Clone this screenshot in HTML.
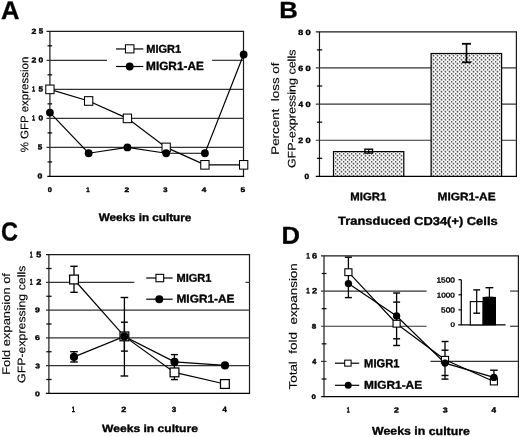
<!DOCTYPE html>
<html><head><meta charset="utf-8"><style>
html,body{margin:0;padding:0;background:#fff;}
svg{display:block;will-change:transform;}
text{font-family:"Liberation Sans",sans-serif;fill:#000;text-rendering:geometricPrecision;}
</style></head><body>
<svg width="520" height="437" viewBox="0 0 520 437">
<defs><pattern id="stip" x="3" y="1" width="4" height="4" patternUnits="userSpaceOnUse">
<rect width="4" height="4" fill="#fff"/><rect x="-0.3" y="-0.2" width="1.6" height="1.8" fill="#5a5a5a"/><rect x="1.7" y="1.8" width="1.6" height="1.8" fill="#5a5a5a"/>
</pattern>
<filter id="bl" x="-5%" y="-5%" width="110%" height="110%"><feGaussianBlur stdDeviation="0.5"/></filter></defs>
<rect width="520" height="437" fill="#fff"/>
<line x1="46.50" y1="31.30" x2="244.10" y2="31.30" stroke="#1a1a1a" stroke-width="1.2"/>
<line x1="49.90" y1="31.30" x2="49.90" y2="176.45" stroke="#1a1a1a" stroke-width="1.2"/>
<line x1="243.50" y1="31.30" x2="243.50" y2="177.05" stroke="#1a1a1a" stroke-width="1.2"/>
<line x1="47.30" y1="176.45" x2="244.10" y2="176.45" stroke="#000" stroke-width="1.25"/>
<line x1="46.50" y1="60.33" x2="107.00" y2="60.33" stroke="#333" stroke-width="1.2"/>
<line x1="212.10" y1="60.33" x2="243.50" y2="60.33" stroke="#333" stroke-width="1.2"/>
<line x1="46.50" y1="89.36" x2="243.50" y2="89.36" stroke="#333" stroke-width="1.2"/>
<line x1="46.50" y1="118.39" x2="243.50" y2="118.39" stroke="#333" stroke-width="1.2"/>
<line x1="46.50" y1="147.42" x2="243.50" y2="147.42" stroke="#333" stroke-width="1.2"/>
<line x1="47.50" y1="45.81" x2="52.20" y2="45.81" stroke="#000" stroke-width="1.2"/>
<line x1="47.50" y1="74.84" x2="52.20" y2="74.84" stroke="#000" stroke-width="1.2"/>
<line x1="47.50" y1="103.87" x2="52.20" y2="103.87" stroke="#000" stroke-width="1.2"/>
<line x1="47.50" y1="132.90" x2="52.20" y2="132.90" stroke="#000" stroke-width="1.2"/>
<line x1="47.50" y1="161.94" x2="52.20" y2="161.94" stroke="#000" stroke-width="1.2"/>
<polyline points="49.90,112.58 88.65,153.23 127.40,147.42 166.15,153.23 204.90,153.23 243.65,54.52" fill="none" stroke="#000" stroke-width="1.2" stroke-linejoin="miter"/>
<polyline points="49.90,89.36 88.65,100.97 127.40,118.39 166.15,147.42 204.90,164.84 243.65,164.84" fill="none" stroke="#000" stroke-width="1.2" stroke-linejoin="miter"/>
<rect x="45.75" y="85.06" width="8.30" height="8.60" fill="#fff" stroke="#000" stroke-width="1.05"/>
<rect x="84.50" y="96.67" width="8.30" height="8.60" fill="#fff" stroke="#000" stroke-width="1.05"/>
<rect x="123.25" y="114.09" width="8.30" height="8.60" fill="#fff" stroke="#000" stroke-width="1.05"/>
<rect x="162.00" y="143.12" width="8.30" height="8.60" fill="#fff" stroke="#000" stroke-width="1.05"/>
<rect x="200.75" y="160.54" width="8.30" height="8.60" fill="#fff" stroke="#000" stroke-width="1.05"/>
<rect x="239.50" y="160.54" width="8.30" height="8.60" fill="#fff" stroke="#000" stroke-width="1.05"/>
<circle cx="49.90" cy="112.58" r="3.90" fill="#000"/>
<circle cx="88.65" cy="153.23" r="3.90" fill="#000"/>
<circle cx="127.40" cy="147.42" r="3.90" fill="#000"/>
<circle cx="166.15" cy="153.23" r="3.90" fill="#000"/>
<circle cx="204.90" cy="153.23" r="3.90" fill="#000"/>
<circle cx="243.65" cy="54.52" r="3.90" fill="#000"/>
<line x1="116.00" y1="48.95" x2="143.30" y2="48.95" stroke="#000" stroke-width="1.2"/>
<rect x="125.45" y="44.80" width="8.50" height="8.10" fill="#fff" stroke="#000" stroke-width="1.05"/>
<line x1="116.00" y1="66.50" x2="143.30" y2="66.50" stroke="#000" stroke-width="1.2"/>
<circle cx="129.70" cy="66.50" r="3.90" fill="#000"/>
<line x1="315.80" y1="31.80" x2="517.00" y2="31.80" stroke="#1a1a1a" stroke-width="1.2"/>
<line x1="319.46" y1="31.80" x2="319.46" y2="176.37" stroke="#1a1a1a" stroke-width="1.2"/>
<line x1="516.40" y1="31.80" x2="516.40" y2="176.97" stroke="#1a1a1a" stroke-width="1.2"/>
<line x1="315.80" y1="176.37" x2="517.00" y2="176.37" stroke="#000" stroke-width="1.25"/>
<line x1="315.80" y1="67.94" x2="516.40" y2="67.94" stroke="#333" stroke-width="1.2"/>
<line x1="315.80" y1="104.08" x2="516.40" y2="104.08" stroke="#333" stroke-width="1.2"/>
<line x1="315.80" y1="140.23" x2="516.40" y2="140.23" stroke="#333" stroke-width="1.2"/>
<line x1="316.90" y1="49.87" x2="322.20" y2="49.87" stroke="#000" stroke-width="1.2"/>
<line x1="316.90" y1="86.01" x2="322.20" y2="86.01" stroke="#000" stroke-width="1.2"/>
<line x1="316.90" y1="122.16" x2="322.20" y2="122.16" stroke="#000" stroke-width="1.2"/>
<line x1="316.90" y1="158.30" x2="322.20" y2="158.30" stroke="#000" stroke-width="1.2"/>
<rect x="333.5" y="151.6" width="70.3" height="24.77" fill="url(#stip)" filter="url(#bl)"/>
<rect x="431.1" y="53.5" width="70.5" height="122.87" fill="url(#stip)" filter="url(#bl)"/>
<rect x="333.5" y="151.6" width="70.3" height="24.77" fill="none" stroke="#000" stroke-width="1.2"/>
<rect x="431.1" y="53.5" width="70.5" height="122.87" fill="none" stroke="#000" stroke-width="1.2"/>
<rect x="364.9" y="149.2" width="7.6" height="3.9" fill="none" stroke="#000" stroke-width="1.4"/>
<line x1="368.70" y1="149.20" x2="368.70" y2="153.10" stroke="#000" stroke-width="1.2"/>
<line x1="466.50" y1="43.80" x2="466.50" y2="62.30" stroke="#000" stroke-width="1.6"/>
<line x1="462.00" y1="43.80" x2="471.00" y2="43.80" stroke="#000" stroke-width="1.8"/>
<line x1="462.00" y1="62.30" x2="471.00" y2="62.30" stroke="#000" stroke-width="1.8"/>
<line x1="46.00" y1="254.63" x2="250.10" y2="254.63" stroke="#1a1a1a" stroke-width="1.2"/>
<line x1="48.90" y1="254.63" x2="48.90" y2="393.37" stroke="#1a1a1a" stroke-width="1.2"/>
<line x1="249.50" y1="254.63" x2="249.50" y2="393.97" stroke="#1a1a1a" stroke-width="1.2"/>
<line x1="45.90" y1="393.37" x2="250.10" y2="393.37" stroke="#000" stroke-width="1.25"/>
<line x1="46.00" y1="282.38" x2="134.30" y2="282.38" stroke="#333" stroke-width="1.2"/>
<line x1="245.50" y1="282.38" x2="249.50" y2="282.38" stroke="#333" stroke-width="1.2"/>
<line x1="46.00" y1="310.13" x2="249.50" y2="310.13" stroke="#333" stroke-width="1.2"/>
<line x1="46.00" y1="337.87" x2="249.50" y2="337.87" stroke="#333" stroke-width="1.2"/>
<line x1="46.00" y1="365.62" x2="249.50" y2="365.62" stroke="#333" stroke-width="1.2"/>
<line x1="46.30" y1="268.50" x2="51.60" y2="268.50" stroke="#000" stroke-width="1.2"/>
<line x1="46.30" y1="296.25" x2="51.60" y2="296.25" stroke="#000" stroke-width="1.2"/>
<line x1="46.30" y1="324.00" x2="51.60" y2="324.00" stroke="#000" stroke-width="1.2"/>
<line x1="46.30" y1="351.75" x2="51.60" y2="351.75" stroke="#000" stroke-width="1.2"/>
<line x1="46.30" y1="379.50" x2="51.60" y2="379.50" stroke="#000" stroke-width="1.2"/>
<line x1="74.00" y1="266.30" x2="74.00" y2="292.30" stroke="#000" stroke-width="1.3"/>
<line x1="70.30" y1="266.30" x2="77.70" y2="266.30" stroke="#000" stroke-width="1.4"/>
<line x1="70.30" y1="292.30" x2="77.70" y2="292.30" stroke="#000" stroke-width="1.4"/>
<line x1="74.00" y1="351.70" x2="74.00" y2="362.00" stroke="#000" stroke-width="1.3"/>
<line x1="70.20" y1="351.70" x2="77.80" y2="351.70" stroke="#000" stroke-width="1.4"/>
<line x1="70.20" y1="362.00" x2="77.80" y2="362.00" stroke="#000" stroke-width="1.4"/>
<line x1="124.40" y1="297.50" x2="124.40" y2="376.00" stroke="#000" stroke-width="1.3"/>
<line x1="120.60" y1="297.50" x2="128.20" y2="297.50" stroke="#000" stroke-width="1.4"/>
<line x1="120.60" y1="376.00" x2="128.20" y2="376.00" stroke="#000" stroke-width="1.4"/>
<line x1="124.40" y1="322.20" x2="124.40" y2="351.10" stroke="#000" stroke-width="1.3"/>
<line x1="120.90" y1="322.20" x2="127.90" y2="322.20" stroke="#000" stroke-width="1.4"/>
<line x1="120.90" y1="351.10" x2="127.90" y2="351.10" stroke="#000" stroke-width="1.4"/>
<line x1="174.40" y1="354.60" x2="174.40" y2="379.60" stroke="#000" stroke-width="1.3"/>
<line x1="170.90" y1="354.60" x2="177.90" y2="354.60" stroke="#000" stroke-width="1.4"/>
<line x1="170.90" y1="379.60" x2="177.90" y2="379.60" stroke="#000" stroke-width="1.4"/>
<polyline points="74.00,356.90 124.40,336.40 174.50,361.90 225.00,365.45" fill="none" stroke="#000" stroke-width="1.2" stroke-linejoin="miter"/>
<polyline points="74.00,279.50 124.40,336.40 174.50,372.40 224.90,384.00" fill="none" stroke="#000" stroke-width="1.2" stroke-linejoin="miter"/>
<rect x="69.60" y="275.10" width="8.80" height="8.80" fill="#fff" stroke="#000" stroke-width="1.25"/>
<rect x="120.00" y="332.00" width="8.80" height="8.80" fill="#fff" stroke="#000" stroke-width="1.25"/>
<rect x="170.10" y="368.00" width="8.80" height="8.80" fill="#fff" stroke="#000" stroke-width="1.25"/>
<rect x="220.50" y="379.60" width="8.80" height="8.80" fill="#fff" stroke="#000" stroke-width="1.25"/>
<circle cx="74.00" cy="356.90" r="4.10" fill="#000"/>
<circle cx="124.40" cy="336.40" r="4.10" fill="#000"/>
<circle cx="174.50" cy="361.90" r="4.10" fill="#000"/>
<circle cx="225.00" cy="365.45" r="4.10" fill="#000"/>
<line x1="146.20" y1="278.00" x2="172.70" y2="278.00" stroke="#000" stroke-width="1.2"/>
<rect x="155.95" y="274.35" width="7.70" height="7.40" fill="#fff" stroke="#000" stroke-width="1.1"/>
<line x1="146.20" y1="299.20" x2="172.70" y2="299.20" stroke="#000" stroke-width="1.2"/>
<circle cx="159.30" cy="299.20" r="4.00" fill="#000"/>
<line x1="321.00" y1="255.90" x2="519.00" y2="255.90" stroke="#1a1a1a" stroke-width="1.2"/>
<line x1="324.00" y1="255.90" x2="324.00" y2="396.60" stroke="#1a1a1a" stroke-width="1.2"/>
<line x1="518.40" y1="255.90" x2="518.40" y2="397.20" stroke="#1a1a1a" stroke-width="1.2"/>
<line x1="321.20" y1="396.60" x2="519.00" y2="396.60" stroke="#000" stroke-width="1.25"/>
<line x1="321.00" y1="291.07" x2="426.60" y2="291.07" stroke="#333" stroke-width="1.2"/>
<line x1="510.10" y1="291.07" x2="518.40" y2="291.07" stroke="#333" stroke-width="1.2"/>
<line x1="321.00" y1="326.25" x2="426.60" y2="326.25" stroke="#333" stroke-width="1.2"/>
<line x1="510.10" y1="326.25" x2="518.40" y2="326.25" stroke="#333" stroke-width="1.2"/>
<line x1="321.00" y1="361.42" x2="326.50" y2="361.42" stroke="#333" stroke-width="1.2"/>
<line x1="430.50" y1="361.42" x2="518.40" y2="361.42" stroke="#333" stroke-width="1.2"/>
<line x1="321.70" y1="273.48" x2="326.50" y2="273.48" stroke="#000" stroke-width="1.2"/>
<line x1="321.70" y1="308.66" x2="326.50" y2="308.66" stroke="#000" stroke-width="1.2"/>
<line x1="321.70" y1="343.84" x2="326.50" y2="343.84" stroke="#000" stroke-width="1.2"/>
<line x1="321.70" y1="379.01" x2="326.50" y2="379.01" stroke="#000" stroke-width="1.2"/>
<line x1="348.40" y1="257.20" x2="348.40" y2="297.60" stroke="#000" stroke-width="1.3"/>
<line x1="344.90" y1="257.20" x2="351.90" y2="257.20" stroke="#000" stroke-width="1.4"/>
<line x1="344.90" y1="297.60" x2="351.90" y2="297.60" stroke="#000" stroke-width="1.4"/>
<line x1="396.60" y1="293.00" x2="396.60" y2="345.50" stroke="#000" stroke-width="1.3"/>
<line x1="393.10" y1="293.00" x2="400.10" y2="293.00" stroke="#000" stroke-width="1.4"/>
<line x1="393.10" y1="345.50" x2="400.10" y2="345.50" stroke="#000" stroke-width="1.4"/>
<line x1="393.10" y1="302.10" x2="400.10" y2="302.10" stroke="#000" stroke-width="1.4"/>
<line x1="393.10" y1="338.80" x2="400.10" y2="338.80" stroke="#000" stroke-width="1.4"/>
<line x1="445.00" y1="341.50" x2="445.00" y2="379.10" stroke="#000" stroke-width="1.3"/>
<line x1="441.50" y1="341.50" x2="448.50" y2="341.50" stroke="#000" stroke-width="1.4"/>
<line x1="441.50" y1="379.10" x2="448.50" y2="379.10" stroke="#000" stroke-width="1.4"/>
<line x1="441.50" y1="350.20" x2="448.50" y2="350.20" stroke="#000" stroke-width="1.4"/>
<line x1="441.50" y1="375.50" x2="448.50" y2="375.50" stroke="#000" stroke-width="1.4"/>
<line x1="493.90" y1="370.20" x2="493.90" y2="381.00" stroke="#000" stroke-width="1.3"/>
<line x1="490.10" y1="370.20" x2="497.70" y2="370.20" stroke="#000" stroke-width="1.4"/>
<line x1="490.10" y1="381.00" x2="497.70" y2="381.00" stroke="#000" stroke-width="1.4"/>
<polyline points="348.40,272.20 396.60,323.70 445.00,359.80 493.90,381.50" fill="none" stroke="#000" stroke-width="1.2" stroke-linejoin="miter"/>
<polyline points="348.40,283.60 396.60,316.00 445.00,363.10 493.90,377.40" fill="none" stroke="#000" stroke-width="1.2" stroke-linejoin="miter"/>
<rect x="344.85" y="268.80" width="7.10" height="6.80" fill="#fff" stroke="#000" stroke-width="1.1"/>
<rect x="393.05" y="320.30" width="7.10" height="6.80" fill="#fff" stroke="#000" stroke-width="1.1"/>
<rect x="441.45" y="356.40" width="7.10" height="6.80" fill="#fff" stroke="#000" stroke-width="1.1"/>
<rect x="490.35" y="378.10" width="7.10" height="6.80" fill="#fff" stroke="#000" stroke-width="1.1"/>
<circle cx="348.40" cy="283.60" r="3.65" fill="#000"/>
<circle cx="396.60" cy="316.00" r="3.65" fill="#000"/>
<circle cx="445.00" cy="363.10" r="3.65" fill="#000"/>
<circle cx="493.90" cy="377.40" r="3.65" fill="#000"/>
<line x1="335.00" y1="363.20" x2="359.20" y2="363.20" stroke="#000" stroke-width="1.2"/>
<rect x="344.70" y="360.15" width="6.40" height="6.00" fill="#fff" stroke="#000" stroke-width="1.05"/>
<line x1="335.00" y1="385.30" x2="359.20" y2="385.30" stroke="#000" stroke-width="1.2"/>
<circle cx="348.20" cy="385.30" r="3.50" fill="#000"/>
<line x1="461.30" y1="279.70" x2="461.30" y2="324.90" stroke="#000" stroke-width="1.2"/>
<line x1="458.20" y1="324.90" x2="505.60" y2="324.90" stroke="#000" stroke-width="1.2"/>
<line x1="458.50" y1="279.70" x2="461.30" y2="279.70" stroke="#000" stroke-width="1.2"/>
<line x1="458.50" y1="294.80" x2="461.30" y2="294.80" stroke="#000" stroke-width="1.2"/>
<line x1="458.50" y1="309.80" x2="461.30" y2="309.80" stroke="#000" stroke-width="1.2"/>
<rect x="470.30" y="301.60" width="12.80" height="23.30" fill="#fff" stroke="#000" stroke-width="1.1"/>
<rect x="483.10" y="297.40" width="12.40" height="27.50" fill="#000" stroke="#000" stroke-width="1.0"/>
<line x1="476.70" y1="289.90" x2="476.70" y2="313.20" stroke="#000" stroke-width="1.2"/>
<line x1="473.30" y1="289.90" x2="480.10" y2="289.90" stroke="#000" stroke-width="1.4"/>
<line x1="473.30" y1="313.20" x2="480.10" y2="313.20" stroke="#000" stroke-width="1.4"/>
<line x1="489.40" y1="287.70" x2="489.40" y2="297.40" stroke="#000" stroke-width="1.2"/>
<line x1="485.50" y1="287.70" x2="493.30" y2="287.70" stroke="#000" stroke-width="1.4"/>
<line x1="485.50" y1="297.40" x2="493.30" y2="297.40" stroke="#000" stroke-width="1.4"/>
<text transform="translate(1.090,18.915) skewY(0.05)" x="0" y="0" font-size="25.580" font-weight="bold" textLength="18.500" lengthAdjust="spacingAndGlyphs" stroke="#000" stroke-width="0.3" stroke-linejoin="round" xml:space="preserve">A</text>
<text transform="translate(279.320,18.005) skewY(0.05)" x="0" y="0" font-size="23.403" font-weight="bold" textLength="18.565" lengthAdjust="spacingAndGlyphs" stroke="#000" stroke-width="0.3" stroke-linejoin="round" xml:space="preserve">B</text>
<text transform="translate(0.970,240.565) skewY(0.05)" x="0" y="0" font-size="26.287" font-weight="bold" textLength="17.030" lengthAdjust="spacingAndGlyphs" stroke="#000" stroke-width="0.3" stroke-linejoin="round" xml:space="preserve">C</text>
<text transform="translate(281.410,243.825) skewY(0.05)" x="0" y="0" font-size="24.540" font-weight="bold" textLength="18.440" lengthAdjust="spacingAndGlyphs" stroke="#000" stroke-width="0.3" stroke-linejoin="round" xml:space="preserve">D</text>
<text transform="translate(146.230,52.740) skewY(0.05)" x="0" y="0" font-size="11.359" font-weight="bold" textLength="34.920" lengthAdjust="spacingAndGlyphs" stroke="#000" stroke-width="0.35" stroke-linejoin="round" xml:space="preserve">MIGR1</text>
<text transform="translate(146.055,69.970) skewY(0.05)" x="0" y="0" font-size="11.933" font-weight="bold" textLength="57.770" lengthAdjust="spacingAndGlyphs" stroke="#000" stroke-width="0.35" stroke-linejoin="round" xml:space="preserve">MIGR1-AE</text>
<text transform="translate(98.650,221.060) skewY(0.05)" x="0" y="0" font-size="10.880" font-weight="bold" textLength="92.640" lengthAdjust="spacingAndGlyphs" stroke="#000" stroke-width="0.35" stroke-linejoin="round" xml:space="preserve">Weeks in culture</text>
<text transform="translate(350.320,200.150) skewY(0.05)" x="0" y="0" font-size="10.905" font-weight="bold" textLength="35.885" lengthAdjust="spacingAndGlyphs" stroke="#000" stroke-width="0.35" stroke-linejoin="round" xml:space="preserve">MIGR1</text>
<text transform="translate(437.500,200.150) skewY(0.05)" x="0" y="0" font-size="10.905" font-weight="bold" textLength="58.060" lengthAdjust="spacingAndGlyphs" stroke="#000" stroke-width="0.35" stroke-linejoin="round" xml:space="preserve">MIGR1-AE</text>
<text transform="translate(338.115,224.815) skewY(0.05)" x="0" y="0" font-size="11.559" font-weight="bold" textLength="159.530" lengthAdjust="spacingAndGlyphs" stroke="#000" stroke-width="0.35" stroke-linejoin="round" xml:space="preserve">Transduced CD34(+) Cells</text>
<text transform="translate(176.470,281.760) skewY(0.05)" x="0" y="0" font-size="11.298" font-weight="bold" textLength="34.945" lengthAdjust="spacingAndGlyphs" stroke="#000" stroke-width="0.35" stroke-linejoin="round" xml:space="preserve">MIGR1</text>
<text transform="translate(176.470,302.530) skewY(0.05)" x="0" y="0" font-size="11.242" font-weight="bold" textLength="58.035" lengthAdjust="spacingAndGlyphs" stroke="#000" stroke-width="0.35" stroke-linejoin="round" xml:space="preserve">MIGR1-AE</text>
<text transform="translate(102.060,431.970) skewY(0.05)" x="0" y="0" font-size="10.479" font-weight="bold" textLength="95.820" lengthAdjust="spacingAndGlyphs" stroke="#000" stroke-width="0.35" stroke-linejoin="round" xml:space="preserve">Weeks in culture</text>
<text transform="translate(364.105,367.230) skewY(0.05)" x="0" y="0" font-size="11.733" font-weight="bold" textLength="35.405" lengthAdjust="spacingAndGlyphs" stroke="#000" stroke-width="0.35" stroke-linejoin="round" xml:space="preserve">MIGR1</text>
<text transform="translate(364.105,388.725) skewY(0.05)" x="0" y="0" font-size="11.392" font-weight="bold" textLength="57.965" lengthAdjust="spacingAndGlyphs" stroke="#000" stroke-width="0.35" stroke-linejoin="round" xml:space="preserve">MIGR1-AE</text>
<text transform="translate(372.060,434.830) skewY(0.05)" x="0" y="0" font-size="11.355" font-weight="bold" textLength="97.820" lengthAdjust="spacingAndGlyphs" stroke="#000" stroke-width="0.35" stroke-linejoin="round" xml:space="preserve">Weeks in culture</text>
<text transform="translate(28.130,152.325) rotate(-90) skewY(0.05)" x="0" y="0" font-size="11.000" font-weight="normal" textLength="95.680" lengthAdjust="spacingAndGlyphs" stroke="#000" stroke-width="0.12" stroke-linejoin="round" xml:space="preserve">% GFP expression</text>
<text transform="translate(278.895,154.795) rotate(-90) skewY(0.05)" x="0" y="0" font-size="11.000" font-weight="normal" textLength="92.270" lengthAdjust="spacingAndGlyphs" stroke="#000" stroke-width="0.12" stroke-linejoin="round" xml:space="preserve">Percent  loss of</text>
<text transform="translate(295.485,168.090) rotate(-90) skewY(0.05)" x="0" y="0" font-size="11.000" font-weight="normal" textLength="118.505" lengthAdjust="spacingAndGlyphs" stroke="#000" stroke-width="0.12" stroke-linejoin="round" xml:space="preserve">GFP-expressing cells</text>
<text transform="translate(10.025,374.795) rotate(-90) skewY(0.05)" x="0" y="0" font-size="11.000" font-weight="normal" textLength="101.735" lengthAdjust="spacingAndGlyphs" stroke="#000" stroke-width="0.12" stroke-linejoin="round" xml:space="preserve">Fold expansion of</text>
<text transform="translate(25.270,382.910) rotate(-90) skewY(0.05)" x="0" y="0" font-size="11.000" font-weight="normal" textLength="117.235" lengthAdjust="spacingAndGlyphs" stroke="#000" stroke-width="0.12" stroke-linejoin="round" xml:space="preserve">GFP-expressing cells</text>
<text transform="translate(296.820,389.560) rotate(-90) skewY(0.05)" x="0" y="0" font-size="11.000" font-weight="normal" textLength="126.410" lengthAdjust="spacingAndGlyphs" stroke="#000" stroke-width="0.12" stroke-linejoin="round" xml:space="preserve">Total  fold  expansion</text>
<text transform="translate(31.585,33.678) skewY(0.05)" x="0" y="0" font-size="7.277" font-weight="bold" textLength="4.830" lengthAdjust="spacingAndGlyphs" stroke="#000" stroke-width="0.4" stroke-linejoin="round" xml:space="preserve">2</text>
<text transform="translate(38.760,33.503) skewY(0.05)" x="0" y="0" font-size="7.277" font-weight="bold" textLength="4.450" lengthAdjust="spacingAndGlyphs" stroke="#000" stroke-width="0.4" stroke-linejoin="round" xml:space="preserve">5</text>
<text transform="translate(31.585,62.602) skewY(0.05)" x="0" y="0" font-size="7.249" font-weight="bold" textLength="4.830" lengthAdjust="spacingAndGlyphs" stroke="#000" stroke-width="0.4" stroke-linejoin="round" xml:space="preserve">2</text>
<text transform="translate(38.585,62.602) skewY(0.05)" x="0" y="0" font-size="7.249" font-weight="bold" textLength="4.625" lengthAdjust="spacingAndGlyphs" stroke="#000" stroke-width="0.4" stroke-linejoin="round" xml:space="preserve">0</text>
<text transform="translate(32.115,91.525) skewY(0.05)" x="0" y="0" font-size="7.263" font-weight="bold" textLength="3.095" lengthAdjust="spacingAndGlyphs" stroke="#000" stroke-width="0.4" stroke-linejoin="round" xml:space="preserve">1</text>
<text transform="translate(38.585,91.525) skewY(0.05)" x="0" y="0" font-size="7.263" font-weight="bold" textLength="4.625" lengthAdjust="spacingAndGlyphs" stroke="#000" stroke-width="0.4" stroke-linejoin="round" xml:space="preserve">5</text>
<text transform="translate(32.115,120.450) skewY(0.05)" x="0" y="0" font-size="7.250" font-weight="bold" textLength="3.095" lengthAdjust="spacingAndGlyphs" stroke="#000" stroke-width="0.4" stroke-linejoin="round" xml:space="preserve">1</text>
<text transform="translate(38.585,120.450) skewY(0.05)" x="0" y="0" font-size="7.250" font-weight="bold" textLength="4.625" lengthAdjust="spacingAndGlyphs" stroke="#000" stroke-width="0.4" stroke-linejoin="round" xml:space="preserve">0</text>
<text transform="translate(37.760,149.461) skewY(0.05)" x="0" y="0" font-size="7.287" font-weight="bold" textLength="4.510" lengthAdjust="spacingAndGlyphs" stroke="#000" stroke-width="0.4" stroke-linejoin="round" xml:space="preserve">5</text>
<text transform="translate(37.585,178.385) skewY(0.05)" x="0" y="0" font-size="7.260" font-weight="bold" textLength="4.860" lengthAdjust="spacingAndGlyphs" stroke="#000" stroke-width="0.4" stroke-linejoin="round" xml:space="preserve">0</text>
<text transform="translate(298.290,34.885) skewY(0.05)" x="0" y="0" font-size="7.653" font-weight="bold" textLength="4.920" lengthAdjust="spacingAndGlyphs" stroke="#000" stroke-width="0.4" stroke-linejoin="round" xml:space="preserve">8</text>
<text transform="translate(305.525,34.885) skewY(0.05)" x="0" y="0" font-size="7.653" font-weight="bold" textLength="5.155" lengthAdjust="spacingAndGlyphs" stroke="#000" stroke-width="0.4" stroke-linejoin="round" xml:space="preserve">0</text>
<text transform="translate(298.290,70.885) skewY(0.05)" x="0" y="0" font-size="7.653" font-weight="bold" textLength="4.920" lengthAdjust="spacingAndGlyphs" stroke="#000" stroke-width="0.4" stroke-linejoin="round" xml:space="preserve">6</text>
<text transform="translate(305.525,70.885) skewY(0.05)" x="0" y="0" font-size="7.653" font-weight="bold" textLength="5.155" lengthAdjust="spacingAndGlyphs" stroke="#000" stroke-width="0.4" stroke-linejoin="round" xml:space="preserve">0</text>
<text transform="translate(298.465,106.973) skewY(0.05)" x="0" y="0" font-size="7.889" font-weight="bold" textLength="4.570" lengthAdjust="spacingAndGlyphs" stroke="#000" stroke-width="0.4" stroke-linejoin="round" xml:space="preserve">4</text>
<text transform="translate(305.525,106.973) skewY(0.05)" x="0" y="0" font-size="7.698" font-weight="bold" textLength="5.155" lengthAdjust="spacingAndGlyphs" stroke="#000" stroke-width="0.4" stroke-linejoin="round" xml:space="preserve">0</text>
<text transform="translate(298.290,142.972) skewY(0.05)" x="0" y="0" font-size="7.692" font-weight="bold" textLength="4.920" lengthAdjust="spacingAndGlyphs" stroke="#000" stroke-width="0.4" stroke-linejoin="round" xml:space="preserve">2</text>
<text transform="translate(305.525,142.972) skewY(0.05)" x="0" y="0" font-size="7.691" font-weight="bold" textLength="5.155" lengthAdjust="spacingAndGlyphs" stroke="#000" stroke-width="0.4" stroke-linejoin="round" xml:space="preserve">0</text>
<text transform="translate(304.555,178.885) skewY(0.05)" x="0" y="0" font-size="7.653" font-weight="bold" textLength="4.595" lengthAdjust="spacingAndGlyphs" stroke="#000" stroke-width="0.4" stroke-linejoin="round" xml:space="preserve">0</text>
<text transform="translate(29.850,257.442) skewY(0.05)" x="0" y="0" font-size="8.424" font-weight="bold" textLength="2.920" lengthAdjust="spacingAndGlyphs" stroke="#000" stroke-width="0.4" stroke-linejoin="round" xml:space="preserve">1</text>
<text transform="translate(36.290,257.267) skewY(0.05)" x="0" y="0" font-size="8.220" font-weight="bold" textLength="4.950" lengthAdjust="spacingAndGlyphs" stroke="#000" stroke-width="0.4" stroke-linejoin="round" xml:space="preserve">5</text>
<text transform="translate(29.850,284.825) skewY(0.05)" x="0" y="0" font-size="8.299" font-weight="bold" textLength="2.920" lengthAdjust="spacingAndGlyphs" stroke="#000" stroke-width="0.4" stroke-linejoin="round" xml:space="preserve">1</text>
<text transform="translate(36.290,284.825) skewY(0.05)" x="0" y="0" font-size="8.298" font-weight="bold" textLength="5.125" lengthAdjust="spacingAndGlyphs" stroke="#000" stroke-width="0.4" stroke-linejoin="round" xml:space="preserve">2</text>
<text transform="translate(35.085,312.355) skewY(0.05)" x="0" y="0" font-size="6.918" font-weight="bold" textLength="4.830" lengthAdjust="spacingAndGlyphs" stroke="#000" stroke-width="0.4" stroke-linejoin="round" xml:space="preserve">9</text>
<text transform="translate(35.085,339.885) skewY(0.05)" x="0" y="0" font-size="6.964" font-weight="bold" textLength="4.830" lengthAdjust="spacingAndGlyphs" stroke="#000" stroke-width="0.4" stroke-linejoin="round" xml:space="preserve">6</text>
<text transform="translate(35.260,368.150) skewY(0.05)" x="0" y="0" font-size="6.742" font-weight="bold" textLength="4.655" lengthAdjust="spacingAndGlyphs" stroke="#000" stroke-width="0.4" stroke-linejoin="round" xml:space="preserve">3</text>
<text transform="translate(35.085,396.355) skewY(0.05)" x="0" y="0" font-size="7.004" font-weight="bold" textLength="4.830" lengthAdjust="spacingAndGlyphs" stroke="#000" stroke-width="0.4" stroke-linejoin="round" xml:space="preserve">0</text>
<text transform="translate(306.145,258.472) skewY(0.05)" x="0" y="0" font-size="8.176" font-weight="bold" textLength="3.565" lengthAdjust="spacingAndGlyphs" stroke="#000" stroke-width="0.4" stroke-linejoin="round" xml:space="preserve">1</text>
<text transform="translate(312.055,258.472) skewY(0.05)" x="0" y="0" font-size="7.923" font-weight="bold" textLength="5.125" lengthAdjust="spacingAndGlyphs" stroke="#000" stroke-width="0.4" stroke-linejoin="round" xml:space="preserve">6</text>
<text transform="translate(306.320,293.355) skewY(0.05)" x="0" y="0" font-size="7.676" font-weight="bold" textLength="3.390" lengthAdjust="spacingAndGlyphs" stroke="#000" stroke-width="0.4" stroke-linejoin="round" xml:space="preserve">1</text>
<text transform="translate(312.055,293.355) skewY(0.05)" x="0" y="0" font-size="7.663" font-weight="bold" textLength="5.125" lengthAdjust="spacingAndGlyphs" stroke="#000" stroke-width="0.4" stroke-linejoin="round" xml:space="preserve">2</text>
<text transform="translate(311.790,328.590) skewY(0.05)" x="0" y="0" font-size="6.664" font-weight="bold" textLength="4.450" lengthAdjust="spacingAndGlyphs" stroke="#000" stroke-width="0.4" stroke-linejoin="round" xml:space="preserve">8</text>
<text transform="translate(312.230,363.885) skewY(0.05)" x="0" y="0" font-size="7.331" font-weight="bold" textLength="4.070" lengthAdjust="spacingAndGlyphs" stroke="#000" stroke-width="0.4" stroke-linejoin="round" xml:space="preserve">4</text>
<text transform="translate(311.555,399.120) skewY(0.05)" x="0" y="0" font-size="6.468" font-weight="bold" textLength="4.390" lengthAdjust="spacingAndGlyphs" stroke="#000" stroke-width="0.4" stroke-linejoin="round" xml:space="preserve">0</text>
<text transform="translate(47.790,191.885) skewY(0.05)" x="0" y="0" font-size="6.668" font-weight="bold" textLength="4.125" lengthAdjust="spacingAndGlyphs" stroke="#000" stroke-width="0.4" stroke-linejoin="round" xml:space="preserve">0</text>
<text transform="translate(86.350,191.885) skewY(0.05)" x="0" y="0" font-size="6.668" font-weight="bold" textLength="3.420" lengthAdjust="spacingAndGlyphs" stroke="#000" stroke-width="0.4" stroke-linejoin="round" xml:space="preserve">1</text>
<text transform="translate(124.495,191.885) skewY(0.05)" x="0" y="0" font-size="6.654" font-weight="bold" textLength="4.685" lengthAdjust="spacingAndGlyphs" stroke="#000" stroke-width="0.4" stroke-linejoin="round" xml:space="preserve">2</text>
<text transform="translate(163.260,191.885) skewY(0.05)" x="0" y="0" font-size="6.668" font-weight="bold" textLength="4.215" lengthAdjust="spacingAndGlyphs" stroke="#000" stroke-width="0.4" stroke-linejoin="round" xml:space="preserve">3</text>
<text transform="translate(201.730,191.885) skewY(0.05)" x="0" y="0" font-size="6.668" font-weight="bold" textLength="4.540" lengthAdjust="spacingAndGlyphs" stroke="#000" stroke-width="0.4" stroke-linejoin="round" xml:space="preserve">4</text>
<text transform="translate(240.585,191.885) skewY(0.05)" x="0" y="0" font-size="6.694" font-weight="bold" textLength="4.685" lengthAdjust="spacingAndGlyphs" stroke="#000" stroke-width="0.4" stroke-linejoin="round" xml:space="preserve">5</text>
<text transform="translate(71.820,412.120) skewY(0.05)" x="0" y="0" font-size="7.696" font-weight="bold" textLength="3.155" lengthAdjust="spacingAndGlyphs" stroke="#000" stroke-width="0.4" stroke-linejoin="round" xml:space="preserve">1</text>
<text transform="translate(121.320,412.120) skewY(0.05)" x="0" y="0" font-size="7.641" font-weight="bold" textLength="5.095" lengthAdjust="spacingAndGlyphs" stroke="#000" stroke-width="0.4" stroke-linejoin="round" xml:space="preserve">2</text>
<text transform="translate(171.760,412.120) skewY(0.05)" x="0" y="0" font-size="7.470" font-weight="bold" textLength="4.450" lengthAdjust="spacingAndGlyphs" stroke="#000" stroke-width="0.4" stroke-linejoin="round" xml:space="preserve">3</text>
<text transform="translate(222.465,412.120) skewY(0.05)" x="0" y="0" font-size="7.696" font-weight="bold" textLength="4.305" lengthAdjust="spacingAndGlyphs" stroke="#000" stroke-width="0.4" stroke-linejoin="round" xml:space="preserve">4</text>
<text transform="translate(346.850,412.590) skewY(0.05)" x="0" y="0" font-size="7.546" font-weight="bold" textLength="2.920" lengthAdjust="spacingAndGlyphs" stroke="#000" stroke-width="0.4" stroke-linejoin="round" xml:space="preserve">1</text>
<text transform="translate(394.055,412.590) skewY(0.05)" x="0" y="0" font-size="7.342" font-weight="bold" textLength="4.860" lengthAdjust="spacingAndGlyphs" stroke="#000" stroke-width="0.4" stroke-linejoin="round" xml:space="preserve">2</text>
<text transform="translate(442.790,412.415) skewY(0.05)" x="0" y="0" font-size="7.131" font-weight="bold" textLength="4.920" lengthAdjust="spacingAndGlyphs" stroke="#000" stroke-width="0.4" stroke-linejoin="round" xml:space="preserve">3</text>
<text transform="translate(491.495,412.590) skewY(0.05)" x="0" y="0" font-size="7.546" font-weight="bold" textLength="4.570" lengthAdjust="spacingAndGlyphs" stroke="#000" stroke-width="0.4" stroke-linejoin="round" xml:space="preserve">4</text>
<text transform="translate(436.500,282.590) skewY(0.05)" x="0" y="0" font-size="7.219" font-weight="normal" textLength="18.445" lengthAdjust="spacingAndGlyphs" stroke="#000" stroke-width="0.35" stroke-linejoin="round" xml:space="preserve">1500</text>
<text transform="translate(436.675,297.385) skewY(0.05)" x="0" y="0" font-size="7.002" font-weight="normal" textLength="18.270" lengthAdjust="spacingAndGlyphs" stroke="#000" stroke-width="0.35" stroke-linejoin="round" xml:space="preserve">1000</text>
<text transform="translate(441.085,312.385) skewY(0.05)" x="0" y="0" font-size="7.219" font-weight="normal" textLength="13.860" lengthAdjust="spacingAndGlyphs" stroke="#000" stroke-width="0.35" stroke-linejoin="round" xml:space="preserve">500</text>
<text transform="translate(450.525,326.855) skewY(0.05)" x="0" y="0" font-size="6.244" font-weight="normal" textLength="4.420" lengthAdjust="spacingAndGlyphs" stroke="#000" stroke-width="0.35" stroke-linejoin="round" xml:space="preserve">0</text>
</svg>
</body></html>
